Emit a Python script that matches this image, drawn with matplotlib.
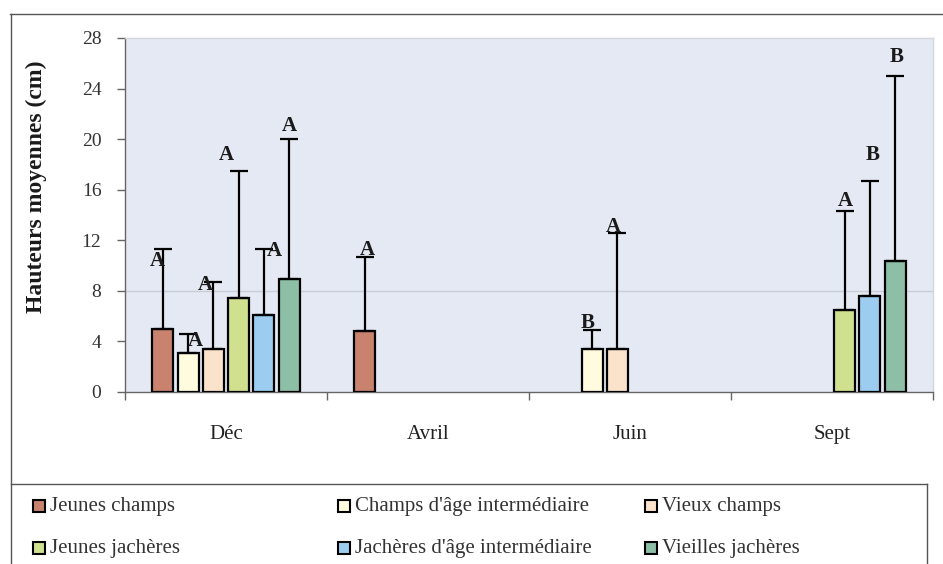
import numpy as np
import matplotlib
matplotlib.use("Agg")
import matplotlib.pyplot as plt
from matplotlib.patches import Rectangle
from matplotlib.lines import Line2D

# ---- data -------------------------------------------------------------
categories = ["Déc", "Avril", "Juin", "Sept"]
series_names = [
    "Jeunes champs",
    "Champs d'âge intermédiaire",
    "Vieux champs",
    "Jeunes jachères",
    "Jachères d'âge intermédiaire",
    "Vieilles jachères",
]
nan = np.nan
# mean heights (cm)
jeunes_champs = [5.0, 4.8, nan, nan]
champs_intermediaires = [3.1, nan, 3.4, nan]
vieux_champs = [3.4, nan, 3.4, nan]
jeunes_jacheres = [7.4, nan, nan, 6.5]
jacheres_intermediaires = [6.1, nan, nan, 7.6]
vieilles_jacheres = [8.9, nan, nan, 10.4]
# upper error (cm)
err_jeunes_champs = [6.3, 5.9, nan, nan]
err_champs_intermediaires = [1.5, nan, 1.5, nan]
err_vieux_champs = [5.3, nan, 9.2, nan]
err_jeunes_jacheres = [10.1, nan, nan, 7.8]
err_jacheres_intermediaires = [5.2, nan, nan, 9.1]
err_vieilles_jacheres = [11.1, nan, nan, 14.6]
# significance letters
let_jeunes_champs = ["A", "A", "", ""]
let_champs_intermediaires = ["A", "", "B", ""]
let_vieux_champs = ["A", "", "A", ""]
let_jeunes_jacheres = ["A", "", "", "A"]
let_jacheres_intermediaires = ["A", "", "", "B"]
let_vieilles_jacheres = ["A", "", "", "B"]

y_ticks = [0, 4, 8, 12, 16, 20, 24, 28]

means = [jeunes_champs, champs_intermediaires, vieux_champs,
         jeunes_jacheres, jacheres_intermediaires, vieilles_jacheres]
errors = [err_jeunes_champs, err_champs_intermediaires, err_vieux_champs,
          err_jeunes_jacheres, err_jacheres_intermediaires, err_vieilles_jacheres]
letters = [let_jeunes_champs, let_champs_intermediaires, let_vieux_champs,
           let_jeunes_jacheres, let_jacheres_intermediaires, let_vieilles_jacheres]

# ---- style ------------------------------------------------------------
colors = ["#c8826e", "#fffbde", "#fbe3cb", "#cfe08f", "#9ccdf0", "#8dbfa7"]
# hand nudges of the letters (pixels), keyed by (series, category)
letter_nudge = {
    (0, 0): (-5, -12), (1, 0): (7, -7), (2, 0): (-8, -3),
    (3, 0): (-12, 16), (4, 0): (10, -2), (5, 0): (0, 13),
    (0, 1): (3, 7),
    (1, 2): (-4, 7), (2, 2): (-4, 6),
    (3, 3): (1, 10), (4, 3): (3, 26), (5, 3): (1, 19),
}

plt.rcParams["font.family"] = ["Liberation Serif", "DejaVu Serif"]

W, H = 943, 564
fig = plt.figure(figsize=(W / 100, H / 100), dpi=100)
fig.patch.set_facecolor("white")

ax = fig.add_axes([125 / W, 1 - 392 / H, 808 / W, 354 / H])
ax.set_facecolor("#e5e9f3")

slot = 0.1252
bar_w = 0.104
centers = np.arange(len(categories)) + 0.5
for i, (m, e, lab) in enumerate(zip(means, errors, letters)):
    x = centers + (i - 2.5) * slot
    m = np.asarray(m, dtype=float)
    e = np.asarray(e, dtype=float)
    ok = ~np.isnan(m)
    ax.bar(x[ok], m[ok], width=bar_w, color=colors[i], edgecolor="black",
           linewidth=1.6, zorder=3)
    ax.errorbar(x[ok], m[ok], yerr=[np.zeros(ok.sum()), e[ok]], fmt="none",
                ecolor="black", elinewidth=1.6, capsize=6.5, capthick=1.6,
                zorder=4)
    for j in np.where(ok)[0]:
        if lab[j]:
            dx, dy = letter_nudge.get((i, j), (0, 10))
            ax.annotate(lab[j], (x[j], m[j] + e[j]), xytext=(dx, dy),
                        textcoords="offset pixels", ha="center", va="center",
                        fontsize=15, fontweight="bold", color="#1a1a1a",
                        zorder=5)

ax.axhline(8, color="#c9cdd6", lw=1.0, zorder=1)

ax.set_xlim(0, len(categories))
ax.set_ylim(0, 28)
ax.set_yticks(y_ticks)
ax.set_yticklabels([str(v) for v in y_ticks])
ax.set_xticks(np.arange(len(categories) + 1))
ax.set_xticklabels([])
ax.set_xticks(centers, minor=True)
ax.set_xticklabels(categories, minor=True)
ax.tick_params(axis="x", which="major", length=6, width=1, color="#666666",
               direction="out")
ax.tick_params(axis="x", which="minor", length=0, pad=24, labelsize=15,
               labelcolor="#222222")
ax.tick_params(axis="y", length=6, width=1, color="#666666", pad=11,
               labelsize=14, labelcolor="#333333")
for side in ("left", "bottom"):
    ax.spines[side].set_color("#666666")
    ax.spines[side].set_linewidth(1.0)
for side in ("top", "right"):
    ax.spines[side].set_color("#d2d6de")
    ax.spines[side].set_linewidth(1.0)

ax.set_ylabel("Hauteurs moyennes (cm)", fontsize=17, fontweight="bold",
              color="#1a1a1a")
ax.yaxis.set_label_coords((47 - 125) / 808, (392 - 187) / 354)


def fx(px):
    return px / W


def fy(py):
    return 1 - py / H


# chart frame
frame_kw = dict(color="#555555", lw=1.0, transform=fig.transFigure)
fig.add_artist(Line2D([fx(10), fx(943)], [fy(14), fy(14)], **frame_kw))
fig.add_artist(Line2D([fx(11), fx(11)], [fy(14), fy(564)], **frame_kw))
# legend box
fig.add_artist(Line2D([fx(11), fx(927)], [fy(484), fy(484)], **frame_kw))
fig.add_artist(Line2D([fx(927), fx(927)], [fy(484), fy(564)], **frame_kw))

legend_cols = [33, 338, 645]
legend_rows = [506, 548]
sq = 12
for k, name in enumerate(series_names):
    r, c = divmod(k, 3)
    x0 = legend_cols[c]
    yc = legend_rows[r]
    fig.add_artist(Rectangle((fx(x0), fy(yc + sq / 2)), sq / W, sq / H,
                             facecolor=colors[k], edgecolor="black", lw=1.5,
                             transform=fig.transFigure))
    fig.text(fx(x0 + sq + 5), fy(yc), name, ha="left", va="center",
             fontsize=15, color="#333333")

fig.savefig("out.png", dpi=100)
